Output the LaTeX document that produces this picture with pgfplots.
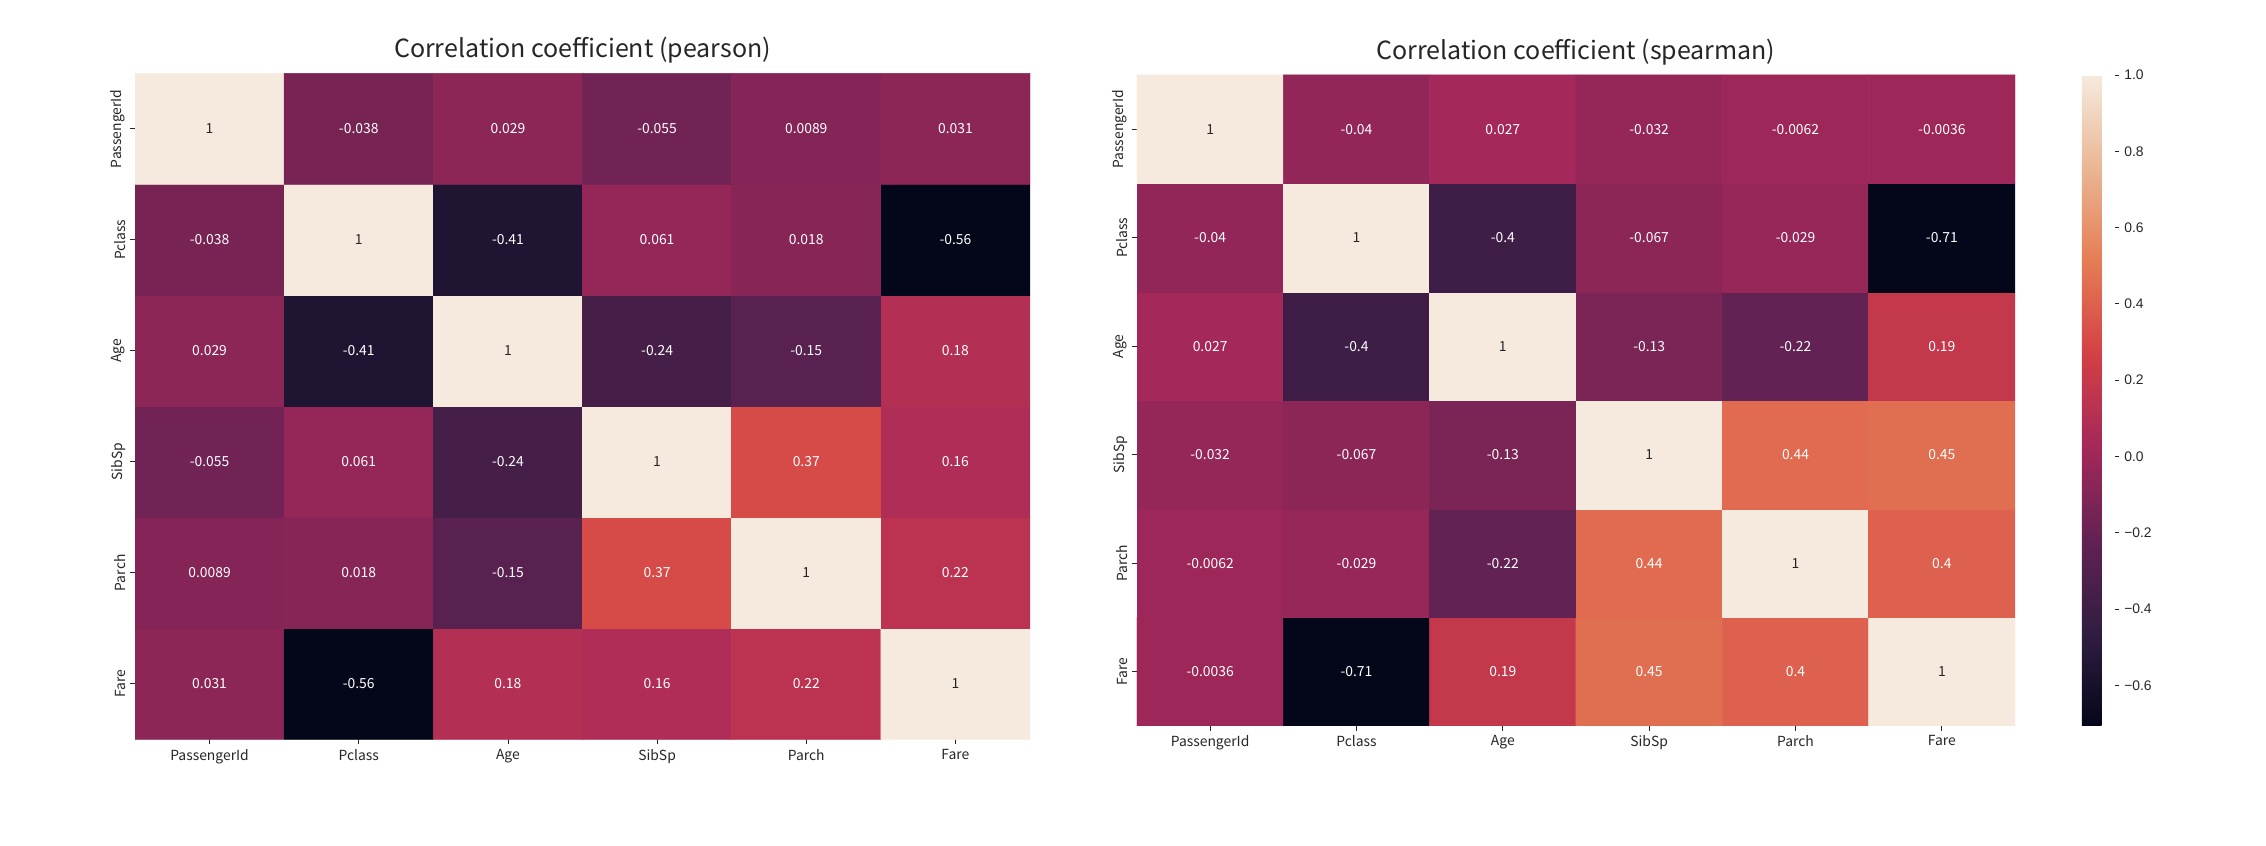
\documentclass[border=0pt]{standalone}
\usepackage{fontspec}
\setmainfont{Noto Sans CJK JP}
\newfontfamily\cbfont{Liberation Sans}
\usepackage{pgfplots}
\pgfplotsset{compat=1.18}
\usepackage{pgfplotstable}
\definecolor{txt}{HTML}{262626}
\definecolor{dk}{HTML}{262626}
\pgfplotsset{colormap={rocket}{rgb255=(4,6,26) rgb255=(49,29,65) rgb255=(98,34,83) rgb255=(165,40,90) rgb255=(211,64,69) rgb255=(229,125,85) rgb255=(234,182,148) rgb255=(246,234,222)}}

% y = 0 is the bottom row (Fare), y = 5 is the top row (PassengerId)
\pgfplotstableread{
x y c
0 0 0.031
1 0 -0.56
2 0 0.18
3 0 0.16
4 0 0.22
5 0 1
0 1 0.0089
1 1 0.018
2 1 -0.15
3 1 0.37
4 1 1
5 1 0.22
0 2 -0.055
1 2 0.061
2 2 -0.24
3 2 1
4 2 0.37
5 2 0.16
0 3 0.029
1 3 -0.41
2 3 1
3 3 -0.24
4 3 -0.15
5 3 0.18
0 4 -0.038
1 4 1
2 4 -0.41
3 4 0.061
4 4 0.018
5 4 -0.56
0 5 1
1 5 -0.038
2 5 0.029
3 5 -0.055
4 5 0.0089
5 5 0.031
}\pearson

\pgfplotstableread{
x y c
0 0 -0.0036
1 0 -0.71
2 0 0.19
3 0 0.45
4 0 0.4
5 0 1
0 1 -0.0062
1 1 -0.029
2 1 -0.22
3 1 0.44
4 1 1
5 1 0.4
0 2 -0.032
1 2 -0.067
2 2 -0.13
3 2 1
4 2 0.44
5 2 0.45
0 3 0.027
1 3 -0.4
2 3 1
3 3 -0.13
4 3 -0.22
5 3 0.19
0 4 -0.04
1 4 1
2 4 -0.4
3 4 -0.067
4 4 -0.029
5 4 -0.71
0 5 1
1 5 -0.04
2 5 0.027
3 5 -0.032
4 5 -0.0062
5 5 -0.0036
}\spearman

\pgfplotsset{
  heat/.style={
    scale only axis,
    enlargelimits=false,
    xmin=-0.5, xmax=5.5, ymin=-0.5, ymax=5.5,
    xtick={0,1,2,3,4,5}, ytick={0,1,2,3,4,5},
    xticklabels={PassengerId,Pclass,Age,SibSp,Parch,Fare},
    yticklabels={Fare,Parch,SibSp,Age,Pclass,PassengerId},
    axis line style={draw=none},
    tick align=outside,
    major tick length=3.5pt,
    tick pos=left,
    tick style={color=txt, line width=0.6pt},
    ticklabel style={font=\fontsize{10}{12}\selectfont, text=txt},
    yticklabel style={rotate=90, anchor=south},
    title style={font=\fontsize{18}{21}\selectfont, text=txt, at={(0.5,1)}, anchor=base, yshift=5.3pt},
    colormap name=rocket,
  },
  cells/.style={matrix plot*, mesh/cols=6, point meta=explicit},
  lab/.style={sharp plot, draw=none, mark=none, point meta=explicit symbolic,
    nodes near coords,
    every node near coord/.append style={font=\fontsize{10}{12}\selectfont, text=#1, anchor=center}},
}

\begin{document}
\begin{tikzpicture}
\path[use as bounding box] (0,0) rectangle (1631.52pt,-609.12pt);

\begin{axis}[heat,
  at={(97.2pt,-52.8pt)}, anchor=north west,
  width=644.4pt, height=479.5pt,
  title={Correlation coefficient (pearson)},
  point meta min=-0.5495, point meta max=1]
\addplot[cells] table[x=x, y=y, meta=c] {\pearson};
\addplot[lab=white] coordinates {
 (1,5)[-0.038] (2,5)[0.029] (3,5)[-0.055] (4,5)[0.0089] (5,5)[0.031]
 (0,4)[-0.038] (2,4)[-0.41] (3,4)[0.061] (4,4)[0.018] (5,4)[-0.56]
 (0,3)[0.029] (1,3)[-0.41] (3,3)[-0.24] (4,3)[-0.15] (5,3)[0.18]
 (0,2)[-0.055] (1,2)[0.061] (2,2)[-0.24] (4,2)[0.37] (5,2)[0.16]
 (0,1)[0.0089] (1,1)[0.018] (2,1)[-0.15] (3,1)[0.37] (5,1)[0.22]
 (0,0)[0.031] (1,0)[-0.56] (2,0)[0.18] (3,0)[0.16] (4,0)[0.22]
};
\addplot[lab=dk] coordinates {(0,5)[1] (1,4)[1] (2,3)[1] (3,2)[1] (4,1)[1] (5,0)[1]};
\end{axis}

\begin{axis}[heat,
  at={(818.6pt,-54pt)}, anchor=north west,
  width=632.2pt, height=468.7pt,
  title={Correlation coefficient (spearman)},
  point meta min=-0.7067, point meta max=1,
  colorbar,
  colorbar style={
    scale only axis,
    at={(parent axis.north east)}, anchor=north west, xshift=39.6pt,
    width=23.5pt, height=468.7pt,
    axis line style={draw=none},
    ytick={-0.6,-0.4,-0.2,0,0.2,0.4,0.6,0.8,1.0},
    yticklabels={−0.6,−0.4,−0.2,0.0,0.2,0.4,0.6,0.8,1.0},
    yticklabel style={font=\cbfont\fontsize{10}{12}\selectfont, text=txt},
    tick align=outside, major tick length=3.5pt,
    ytick pos=right,
    tick style={color=txt, line width=0.6pt},
  }]
\addplot[cells] table[x=x, y=y, meta=c] {\spearman};
\addplot[lab=white] coordinates {
 (1,5)[-0.04] (2,5)[0.027] (3,5)[-0.032] (4,5)[-0.0062] (5,5)[-0.0036]
 (0,4)[-0.04] (2,4)[-0.4] (3,4)[-0.067] (4,4)[-0.029] (5,4)[-0.71]
 (0,3)[0.027] (1,3)[-0.4] (3,3)[-0.13] (4,3)[-0.22] (5,3)[0.19]
 (0,2)[-0.032] (1,2)[-0.067] (2,2)[-0.13] (4,2)[0.44] (5,2)[0.45]
 (0,1)[-0.0062] (1,1)[-0.029] (2,1)[-0.22] (3,1)[0.44] (5,1)[0.4]
 (0,0)[-0.0036] (1,0)[-0.71] (2,0)[0.19] (3,0)[0.45] (4,0)[0.4]
};
\addplot[lab=dk] coordinates {(0,5)[1] (1,4)[1] (2,3)[1] (3,2)[1] (4,1)[1] (5,0)[1]};
\end{axis}
\end{tikzpicture}
\end{document}
